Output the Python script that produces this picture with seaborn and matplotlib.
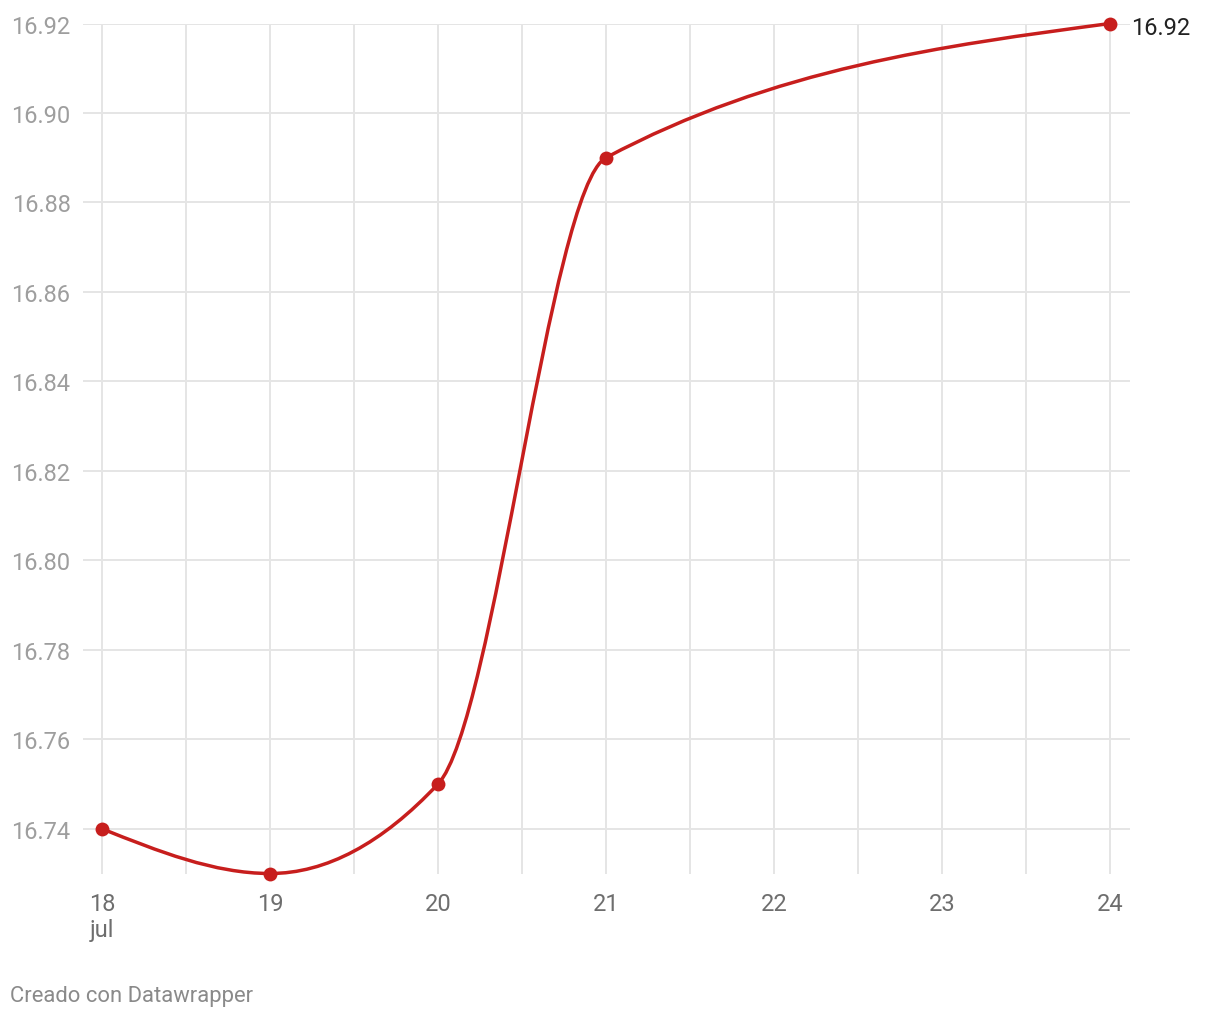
import numpy as np
import pandas as pd
import matplotlib
matplotlib.use("Agg")
import matplotlib.pyplot as plt
from matplotlib.path import Path
from matplotlib.patches import PathPatch
import seaborn as sns

# data (day of July, value)
days = [18, 19, 20, 21, 24]
values = [16.74, 16.73, 16.75, 16.89, 16.92]
y_ticks = [16.74, 16.76, 16.78, 16.80, 16.82, 16.84, 16.86, 16.88, 16.90, 16.92]
x_ticks = [18, 19, 20, 21, 22, 23, 24]
x_labels = ["18\njul", "19", "20", "21", "22", "23", "24"]
footer = "Creado con Datawrapper"

RED = "#c71e1d"
GRID = "#e5e5e5"

df = pd.DataFrame({"day": days, "value": values})


def monotone_path(x, y):
    # same construction as d3.curveMonotoneX: cubic bezier segments
    x = np.asarray(x, float)
    y = np.asarray(y, float)
    n = len(x)
    h = np.diff(x)
    s = np.diff(y) / h
    t = np.zeros(n)
    for i in range(1, n - 1):
        p = (s[i - 1] * h[i] + s[i] * h[i - 1]) / (h[i - 1] + h[i])
        t[i] = (np.sign(s[i - 1]) + np.sign(s[i])) * min(abs(s[i - 1]), abs(s[i]), 0.5 * abs(p))
    t[0] = (3 * s[0] - t[1]) / 2
    t[-1] = (3 * s[-1] - t[-2]) / 2
    verts = [(x[0], y[0])]
    codes = [Path.MOVETO]
    for i in range(n - 1):
        dx = h[i] / 3
        verts += [(x[i] + dx, y[i] + dx * t[i]),
                  (x[i + 1] - dx, y[i + 1] - dx * t[i + 1]),
                  (x[i + 1], y[i + 1])]
        codes += [Path.CURVE4] * 3
    return Path(verts, codes)


sns.set_style("white")
plt.rcParams["font.family"] = ["Roboto", "DejaVu Sans"]

W, H = 1220, 1020
fig = plt.figure(figsize=(W / 100, H / 100), dpi=100)
ax = fig.add_axes([83 / W, 1 - 874.5 / H, (1130 - 83) / W, (874.5 - 24.5) / H])

ax.set_xlim(18 - 19 / 168, 24 + 20 / 168)
ax.set_ylim(16.73, 16.92)

# grid: horizontal at value ticks, vertical at every half day
ax.set_yticks(y_ticks)
ax.set_yticklabels([f"{v:.2f}" for v in y_ticks])
ax.set_xticks(x_ticks)
ax.set_xticklabels(x_labels)
ax.set_xticks(np.arange(18.5, 24, 1.0), minor=True)
ax.grid(True, which="major", axis="both", color=GRID, linewidth=1.4)
ax.grid(True, which="minor", axis="x", color=GRID, linewidth=1.4)
ax.set_axisbelow(True)
for sp in ax.spines.values():
    sp.set_visible(False)

ax.tick_params(axis="y", length=0, pad=9, labelsize=17, labelcolor="#9e9e9e")
ax.tick_params(axis="x", which="both", length=0, pad=13, labelsize=17, labelcolor="#6e6e6e")
for lab in ax.get_xticklabels():
    lab.set_linespacing(1.2)

ax.add_patch(PathPatch(monotone_path(days, values), facecolor="none",
                       edgecolor=RED, linewidth=2.5, capstyle="round",
                       joinstyle="round", clip_on=False, zorder=3))
sns.scatterplot(data=df, x="day", y="value", color=RED, s=100, linewidth=0,
                ax=ax, clip_on=False, zorder=4, legend=False)
ax.set_xlabel("")
ax.set_ylabel("")

ax.annotate(f"{values[-1]:.2f}", xy=(days[-1], values[-1]), xytext=(15, -3),
            textcoords="offset points", ha="left", va="center",
            fontsize=17, color="#222222", annotation_clip=False)

fig.text(10 / W, 1 - 997 / H, footer, ha="left", va="center",
         fontsize=15.8, color="#8a8a8a")

fig.savefig("out.png", dpi=100)
